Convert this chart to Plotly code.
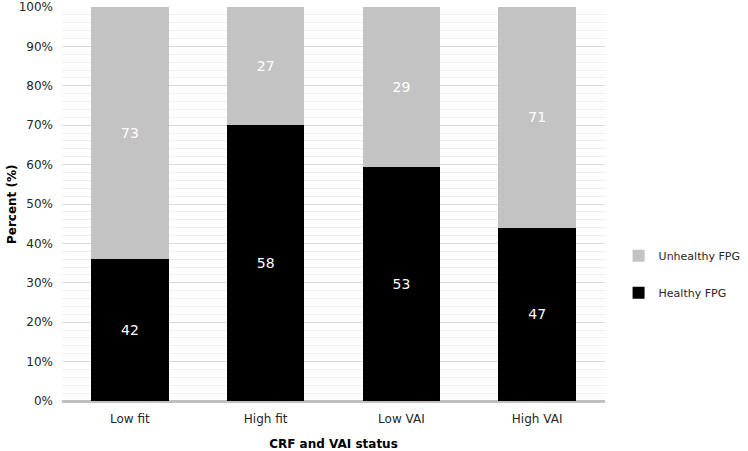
import plotly.graph_objects as go

categories = ["Low fit", "High fit", "Low VAI", "High VAI"]
healthy_pct = [36, 70, 59.5, 44]
unhealthy_pct = [64, 30, 40.5, 56]
healthy_labels = ["42", "58", "53", "47"]
unhealthy_labels = ["73", "27", "29", "71"]

FONT = "DejaVu Sans"

fig = go.Figure()
fig.add_trace(go.Bar(
    x=categories, y=healthy_pct, name="Healthy FPG",
    marker=dict(color="#000000", line=dict(width=0)),
    text=healthy_labels, textposition="inside", insidetextanchor="middle",
    textfont=dict(color="white", size=14, family=FONT),
    legendgroup="h", legendrank=2, hoverinfo="skip",
))
fig.add_trace(go.Bar(
    x=categories, y=unhealthy_pct, name="Unhealthy FPG",
    marker=dict(color="#c3c3c3", line=dict(width=0)),
    text=unhealthy_labels, textposition="inside", insidetextanchor="middle",
    textfont=dict(color="white", size=14, family=FONT),
    legendgroup="u", legendrank=1, hoverinfo="skip",
))

fig.update_layout(
    barmode="stack",
    bargap=0.43,
    width=748, height=451,
    margin=dict(l=62, r=143, t=7, b=50, autoexpand=False),
    paper_bgcolor="white", plot_bgcolor="white",
    font=dict(family=FONT, size=12, color="#262626"),
    uniformtext=dict(mode=False),
    legend=dict(
        x=1.025, xanchor="left", y=0.322, yanchor="middle",
        traceorder="grouped", tracegroupgap=18,
        font=dict(size=11, color="#262626", family=FONT),
        bgcolor="rgba(0,0,0,0)",
    ),
    xaxis=dict(
        title=dict(text="<b>CRF and VAI status</b>", font=dict(size=12, family=FONT, color="#000")),
        showgrid=False, showline=False, ticks="", tickfont=dict(size=12),
        ticklabelstandoff=9, automargin=False,
    ),
    yaxis=dict(
        range=[0, 100], dtick=10, ticksuffix="%",
        showgrid=True, gridcolor="#d9d9d9", gridwidth=1,
        minor=dict(dtick=2, showgrid=True, gridcolor="#efefef", gridwidth=1),
        zeroline=True, zerolinecolor="#bfbfbf", zerolinewidth=3,
        showline=False, ticks="", tickfont=dict(size=12),
        ticklabelstandoff=8, automargin=False,
    ),
    annotations=[dict(
        text="<b>Percent (%)</b>", textangle=-90,
        xref="paper", yref="paper", x=-0.092, y=0.5,
        xanchor="center", yanchor="middle", showarrow=False,
        font=dict(size=12, family=FONT, color="#000"),
    )],
)

fig.write_html(
    "out.html",
    config={"displayModeBar": False},
    post_script="document.body.style.margin='0';document.body.style.overflow='hidden';",
)
